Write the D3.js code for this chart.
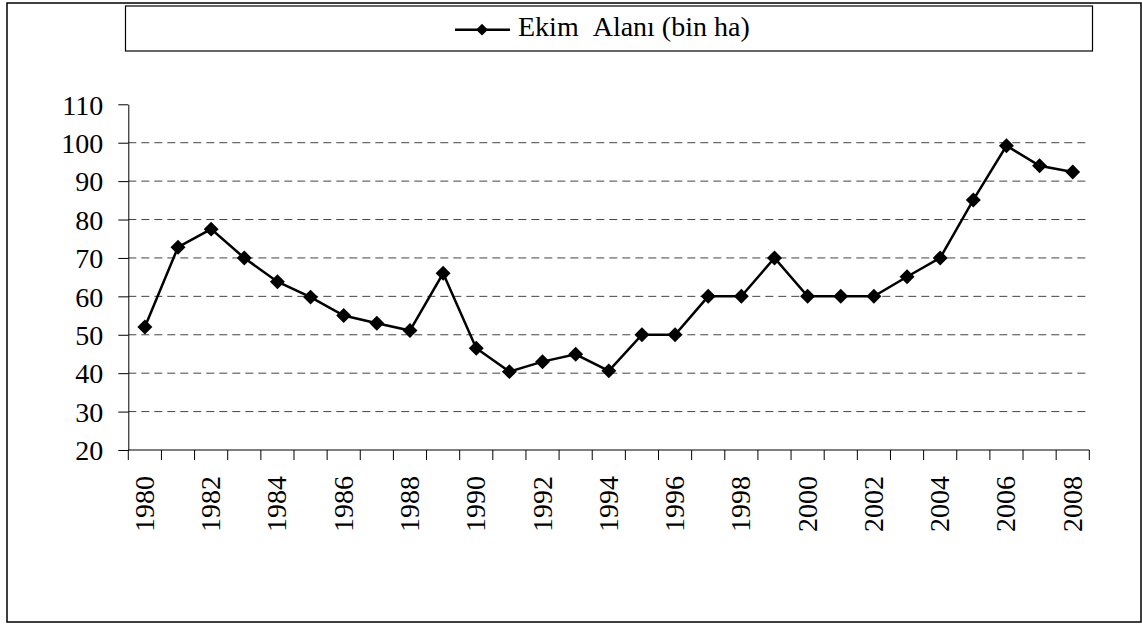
<!DOCTYPE html>
<html>
<head>
<meta charset="utf-8">
<script src="https://cdn.jsdelivr.net/npm/d3@7"></script>
<style>
  body { margin: 0; background: #fff; }
  #chart text { font-family: "Liberation Serif", "DejaVu Serif", "Times New Roman", Times, serif; }
</style>
</head>
<body>
<svg id="chart" width="1142" height="625"></svg>
<script>
// data
var years = ["1980","1981","1982","1983","1984","1985","1986","1987","1988","1989",
             "1990","1991","1992","1993","1994","1995","1996","1997","1998","1999",
             "2000","2001","2002","2003","2004","2005","2006","2007","2008"];
var area = [52, 72.8, 77.5, 70, 63.8, 59.8, 55, 53, 51.1, 66,
            46.5, 40.4, 43, 44.9, 40.6, 50, 50, 60, 60, 70,
            60, 60, 60, 65.1, 70, 85.1, 99.2, 94, 92.4];
var yTicks = [20, 30, 40, 50, 60, 70, 80, 90, 100, 110];
var gridTicks = [30, 40, 50, 60, 70, 80, 90, 100];
var seriesName = "Ekim\u00a0\u00a0Alanı (bin ha)";

var svg = d3.select("#chart");
var plotL = 128.3, plotR = 1089.3, plotT = 104.3, plotB = 450;

// outer frame
svg.append("rect")
  .attr("x", 7).attr("y", 3).attr("width", 1134).attr("height", 619)
  .attr("fill", "none").attr("stroke", "#000").attr("stroke-width", 1.5);

// legend box
svg.append("rect")
  .attr("x", 125.5).attr("y", 6).attr("width", 967).attr("height", 45)
  .attr("fill", "#fff").attr("stroke", "#000").attr("stroke-width", 1.2);

var x = d3.scaleBand().domain(years).range([plotL, plotR]);
var y = d3.scaleLinear().domain([20, 110]).range([plotB, plotT]);

// gridlines
svg.append("g").selectAll("line")
  .data(gridTicks)
  .enter().append("line")
  .attr("x1", plotL).attr("x2", plotR)
  .attr("y1", function(d){ return y(d); })
  .attr("y2", function(d){ return y(d); })
  .attr("stroke", "#444")
  .attr("stroke-width", 1)
  .attr("stroke-dasharray", "8,5");

// y axis
var yAxis = svg.append("g")
  .attr("transform", "translate(" + plotL + ",0)")
  .call(d3.axisLeft(y).tickValues(yTicks).tickSize(10).tickPadding(15).tickSizeOuter(0));
yAxis.attr("font-family", null).attr("font-size", null);
yAxis.select(".domain").attr("stroke", "#000");
yAxis.selectAll("text")
  .style("font-size", "28px")
  .attr("fill", "#000")
  .attr("dy", "0.35em");

// x axis: ticks between categories
var xAxis = svg.append("g").attr("transform", "translate(0," + plotB + ")");
xAxis.append("line")
  .attr("x1", plotL).attr("x2", plotR).attr("stroke", "#000");
xAxis.selectAll("line.tk")
  .data(years.concat(["end"]))
  .enter().append("line")
  .attr("class", "tk")
  .attr("x1", function(d, i){ return plotL + i * x.step(); })
  .attr("x2", function(d, i){ return plotL + i * x.step(); })
  .attr("y1", 0).attr("y2", 10)
  .attr("stroke", "#000");
xAxis.selectAll("text")
  .data(years.filter(function(d, i){ return i % 2 == 0; }))
  .enter().append("text")
  .attr("transform", function(d){
    return "translate(" + (x(d) + x.bandwidth() / 2 + 9) + ",26) rotate(-90)";
  })
  .attr("text-anchor", "end")
  .style("font-size", "28px")
  .text(function(d){ return d; });

// series line
var line = d3.line()
  .x(function(d, i){ return x(years[i]) + x.bandwidth() / 2; })
  .y(function(d){ return y(d); });

svg.append("path")
  .datum(area)
  .attr("d", line)
  .attr("fill", "none")
  .attr("stroke", "#000")
  .attr("stroke-width", 2.5);

var diamond = d3.symbol().type(d3.symbolSquare).size(112);
svg.append("g").selectAll("path")
  .data(area)
  .enter().append("path")
  .attr("d", diamond)
  .attr("transform", function(d, i){
    return "translate(" + (x(years[i]) + x.bandwidth() / 2) + "," + y(d) + ") rotate(45)";
  })
  .attr("fill", "#000");

// legend
var lg = svg.append("g").attr("transform", "translate(455,29.7)");
lg.append("line").attr("x1", 0).attr("x2", 55)
  .attr("stroke", "#000").attr("stroke-width", 2.5);
lg.append("path")
  .attr("d", d3.symbol().type(d3.symbolSquare).size(70))
  .attr("transform", "translate(27,0) rotate(45)")
  .attr("fill", "#000");
lg.append("text")
  .attr("x", 63).attr("y", 6.6)
  .style("font-size", "28px")
  .text(seriesName);
</script>
</body>
</html>
